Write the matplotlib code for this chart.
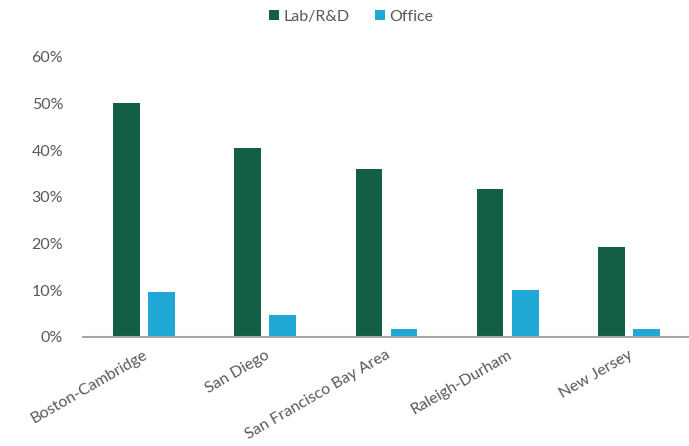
import numpy as np
import matplotlib.pyplot as plt

plt.rcParams['font.family'] = ['Lato', 'DejaVu Sans']

markets = ["Boston-Cambridge", "San Diego", "San Francisco Bay Area", "Raleigh-Durham", "New Jersey"]
lab = [50.1, 40.5, 36.0, 31.7, 19.3]      # %
office = [9.6, 4.7, 1.7, 10.1, 1.7]       # %

green = "#135E45"
blue = "#22A8D6"
grey = "#595959"

fig = plt.figure(figsize=(6.89, 4.46), dpi=100)
ax = fig.add_axes([0.12, 0.2444, 0.88, 0.6278])

x = np.arange(len(markets))
w = 0.22
ax.bar(x - 0.14, lab, w, color=green, label="Lab/R&D")
ax.bar(x + 0.15, office, w, color=blue, label="Office")

ax.set_xlim(-0.5, len(markets) - 0.5)
ax.set_ylim(0, 60)
ax.set_yticks(range(0, 61, 10))
ax.set_yticklabels([f"{v}%" for v in range(0, 61, 10)], color=grey, fontsize=11.5)
ax.set_xticks(x)
ax.set_xticklabels(markets, rotation=30, ha="right", rotation_mode="anchor",
                   color=grey, fontsize=11.5)
ax.tick_params(length=0, axis='y', pad=14)
ax.tick_params(length=0, axis='x', pad=8)

for s in ["top", "right", "left"]:
    ax.spines[s].set_visible(False)
ax.spines["bottom"].set_color("#A6A6A6")
ax.spines["bottom"].set_linewidth(1.5)

leg = fig.legend(loc="upper center", bbox_to_anchor=(0.51, 1.01), ncol=2, frameon=False,
                 handlelength=0.6, handleheight=0.6, handletextpad=0.3, columnspacing=1.6,
                 fontsize=11.5)
for t in leg.get_texts():
    t.set_color(grey)

plt.savefig("out.png")
